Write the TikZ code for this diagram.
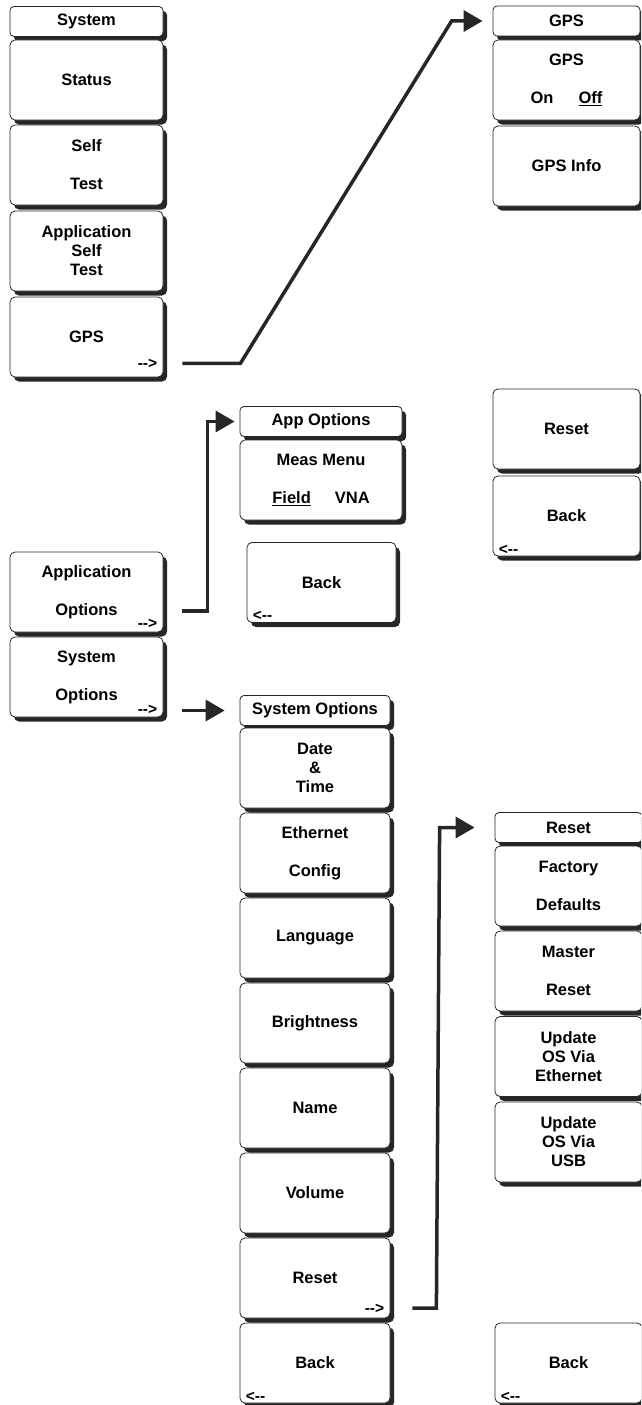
\documentclass[tikz,border=0pt]{standalone}
\usepackage{fontspec}
\setmainfont{Liberation Sans}
\usetikzlibrary{arrows.meta,calc,shadows}
\newcommand\fwd{-\kern0pt-\kern0pt>}
\newcommand\bwd{<\kern0pt-\kern0pt-}
\begin{document}
\begin{tikzpicture}[x=1pt, y=-1pt, font=\bfseries\fontsize{16.5}{19}\selectfont, line join=miter,
	menu/.style={draw=black!85, line width=0.8pt, fill=white, rounded corners=5pt, align=center, inner sep=0pt,
		minimum width=153, drop shadow={shadow xshift=4pt, shadow yshift=-4.5pt, opacity=1, fill=black!85}},
	headbox/.style={menu, minimum height=30, rounded corners=4pt},
	keybox/.style={menu, minimum height=80},
	nexttag/.style={font=\bfseries\fontsize{15.5}{15.5}\selectfont, inner sep=0pt, anchor=east},
	backtag/.style={font=\bfseries\fontsize{15.5}{15.5}\selectfont, inner sep=0pt, anchor=west},
	link/.style={draw=black!85, line width=3.5pt, -{Triangle[length=19pt,width=21pt]}}]
	\useasboundingbox (0,0) rectangle (641,1405);
	\clip (0,0) rectangle (641,1405);
	% system menu
	\node[headbox] (sys) at (86.5,21.5) {System};
	\node[keybox] (status) at (86.5,80) {Status};
	\node[keybox] (selftest) at (86.5,165) {Self\\[19pt]Test};
	\node[keybox] (appself) at (86.5,251) {Application\\Self\\Test};
	\node[keybox] (gps) at (86.5,337) {GPS};
	\node[keybox] (appopt) at (86.5,592) {Application\\[19pt]Options};
	\node[keybox] (sysopt) at (86.5,677) {System\\[19pt]Options};
	% gps menu
	\begin{scope}[menu/.append style={minimum width=147}]
		\node[headbox] (gpshead) at (566.5,21) {GPS};
		\node[keybox] (gpsonoff) at (566.5,80) {GPS\\[19pt]On\hspace{25pt}\underline{Off}};
		\node[keybox] (gpsinfo) at (566.5,166) {GPS Info};
		\node[keybox] (gpsreset) at (566.5,429) {Reset};
		\node[keybox] (gpsback) at (566.5,516) {Back};
	\end{scope}
	% app options
	\node[headbox, minimum width=162] (apphead) at (321,421.5) {App Options};
	\node[keybox, minimum width=162] (measmenu) at (321,480) {Meas Menu\\[19pt]\underline{Field}\hspace{24pt}VNA};
	\node[keybox, minimum width=149] (appback) at (321.5,582.5) {Back};
	% system options
	\begin{scope}[menu/.append style={minimum width=150}]
		\node[headbox] (sysopthead) at (315,710.5) {System Options};
		\foreach \n/\t [count=\i from 0] in {date/{Date\\\&\\Time}, ether/{Ethernet\\[19pt]Config}, lang/Language,
			bright/Brightness, name/Name, volume/Volume, sysreset/Reset, sysback/Back}
			\node[keybox] (\n) at (315,768+85*\i) {\t};
	\end{scope}
	% reset menu
	\begin{scope}[menu/.append style={minimum width=147}]
		\node[headbox] (resethead) at (568.5,827.5) {Reset};
		\node[keybox] (factory) at (568.5,886) {Factory\\[19pt]Defaults};
		\node[keybox] (master) at (568.5,971) {Master\\[19pt]Reset};
		\node[keybox] (updeth) at (568.5,1056.5) {Update\\OS Via\\Ethernet};
		\node[keybox] (updusb) at (568.5,1142) {Update\\OS Via\\USB};
		\node[keybox] (resetback) at (568.5,1363) {Back};
	\end{scope}
	% arrow marks in the keys
	\foreach \k/\d in {gps/14, appopt/9, sysopt/8, sysreset/10}
		\node[nexttag] (\k-more) at ($(\k.south east)+(-6,-\d)$) {\fwd};
	\foreach \k in {gpsback, appback, sysback, resetback}
		\node[backtag] (\k-prev) at ($(\k.south west)+(6,-7)$) {\bwd};
	% links between menus
	\draw[link, shorten >=10pt] ($(gps.east |- gps-more)+(19,0)$) -- ++(58,0) -- ($(gpshead.west)+(-41,0)$) -- (gpshead.west);
	\draw[link, shorten >=5pt] ($(appopt.east)+(19,19)$) -- ++(25,0) |- (apphead.west);
	\draw[link, shorten >=15pt] ($(sysopt.east)+(19,33.5)$) -- (sysopthead.west);
	\draw[link, shorten >=20pt] ($(sysreset.east)+(22,30)$) -- ++(24,0) -- ($(resethead.west)+(-55,0)$) -- (resethead.west);
\end{tikzpicture}
\end{document}
